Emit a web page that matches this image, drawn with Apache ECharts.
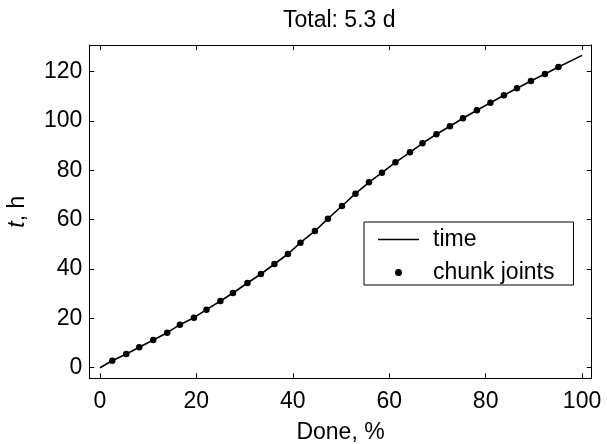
<!DOCTYPE html>
<html>
<head>
<meta charset="utf-8">
<script src="https://cdn.jsdelivr.net/npm/echarts@6/dist/echarts.min.js"></script>
<style>
html,body{margin:0;padding:0;background:#fff;}
#chart{width:607px;height:444px;}
</style>
</head>
<body>
<div id="chart"></div>
<script>
// Chunk joint positions (percent done) and elapsed time (hours)
const jointDone = [2.56, 5.46, 8.16, 11.06, 13.96, 16.6, 19.5, 22.1, 25.0, 27.6, 30.6, 33.4,
  36.2, 39.0, 41.6, 44.6, 47.3, 50.2, 53.0, 55.8, 58.5, 61.3, 64.3, 66.9, 69.8, 72.6,
  75.3, 78.2, 81.0, 83.8, 86.5, 89.4, 92.3, 95.1];
const jointHours = [2.84, 5.55, 8.27, 11.23, 14.19, 17.43, 20.27, 23.51, 27.04, 30.28, 34.33, 37.98,
  42.03, 46.09, 50.67, 55.41, 60.40, 65.55, 70.53, 75.15, 79.04, 83.26, 87.31, 90.96, 94.61, 97.85,
  101.09, 104.34, 107.42, 110.42, 113.26, 116.21, 119.05, 121.89];
const startPoint = [0, 0];
const endPoint = [100, 126.6];
const xTicks = [0, 20, 40, 60, 80, 100];
const yTicks = [0, 20, 40, 60, 80, 100, 120];
const titleText = 'Total: 5.3 d';

const jointData = jointDone.map((d, i) => [d, jointHours[i]]);
const timeData = [startPoint].concat(jointData, [endPoint]);

const FONT = "'Liberation Sans', Arial, Helvetica, sans-serif";
const FS = 23;
const black = '#000';

const chart = echarts.init(document.getElementById('chart'), null, {renderer: 'canvas'});

const xBase = {
  type: 'value', min: -2.2, max: 102,
  axisLine: {show: true, onZero: false, lineStyle: {color: black, width: 1}},
  axisTick: {show: true, inside: true, length: 5, customValues: xTicks, lineStyle: {color: black}},
  splitLine: {show: false}
};
const yBase = {
  type: 'value', min: -4.3, max: 130.8,
  axisLine: {show: true, onZero: false, lineStyle: {color: black, width: 1}},
  axisTick: {show: true, inside: true, length: 5, customValues: yTicks, lineStyle: {color: black}},
  splitLine: {show: false}
};

chart.setOption({
  animation: false,
  backgroundColor: '#fff',
  textStyle: {fontFamily: FONT},
  title: {
    text: titleText, left: 283, top: 9, padding: 0,
    textStyle: {fontFamily: FONT, fontSize: FS, fontWeight: 'normal', color: black}
  },
  grid: {left: 89.3, right: 15.3, top: 45, bottom: 65.7, containLabel: false, outerBoundsMode: 'none'},
  legend: {
    orient: 'vertical', left: 364, top: 222,
    padding: [6, 19, 1, 14],
    itemWidth: 41, itemHeight: 7, itemGap: 10,
    symbolKeepAspect: true,
    backgroundColor: '#fff', borderColor: black, borderWidth: 1, borderRadius: 0,
    textStyle: {fontFamily: FONT, fontSize: FS, color: black, padding: [0, 0, 0, 9]},
    data: [
      {name: 'time', icon: 'path://M0,0H410V15H0Z', itemStyle: {color: black}},
      {name: 'chunk joints', icon: 'circle', itemStyle: {color: black}}
    ]
  },
  xAxis: [
    Object.assign({}, xBase, {
      position: 'bottom',
      name: 'Done, %', nameLocation: 'middle', nameGap: 43,
      nameTextStyle: {fontFamily: FONT, fontSize: FS, color: black},
      axisLabel: {show: true, margin: 12, customValues: xTicks, fontFamily: FONT, fontSize: FS, color: black}
    }),
    Object.assign({}, xBase, {position: 'top', axisLabel: {show: false}})
  ],
  yAxis: [
    Object.assign({}, yBase, {
      position: 'left',
      name: '{i|t}, h', nameLocation: 'middle', nameGap: 60, nameRotate: 90,
      nameTextStyle: {fontFamily: FONT, fontSize: FS, color: black,
        rich: {i: {fontFamily: FONT, fontSize: FS, fontStyle: 'italic', color: black}}},
      axisLabel: {show: true, margin: 7, customValues: yTicks, fontFamily: FONT, fontSize: FS, color: black}
    }),
    Object.assign({}, yBase, {position: 'right', axisLabel: {show: false}})
  ],
  series: [
    {
      name: 'time', type: 'line', data: timeData,
      xAxisIndex: 0, yAxisIndex: 0,
      showSymbol: false, symbol: 'none',
      lineStyle: {color: black, width: 1.6},
      itemStyle: {color: black},
      z: 2
    },
    {
      name: 'chunk joints', type: 'scatter', data: jointData,
      xAxisIndex: 0, yAxisIndex: 0,
      symbol: 'circle', symbolSize: 6.5,
      itemStyle: {color: black, opacity: 1},
      z: 3
    }
  ]
});
</script>
</body>
</html>
